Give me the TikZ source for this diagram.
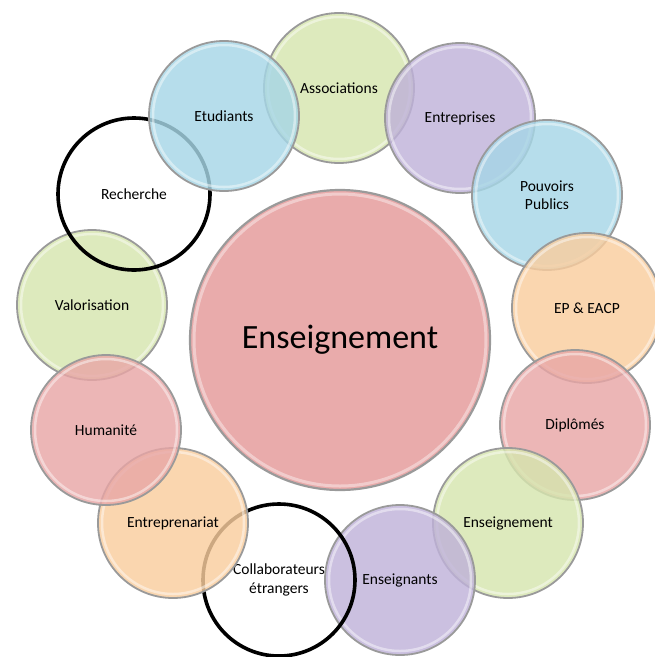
\documentclass[tikz,border=0pt]{standalone}
\usepackage{fontspec}
\setmainfont{Carlito}
\definecolor{cpink}{HTML}{E8A6A6}
\definecolor{cblue}{HTML}{A6D6E6}
\definecolor{cgreen}{HTML}{D6E5AE}
\definecolor{cpurple}{HTML}{BFB2D9}
\definecolor{corange}{HTML}{F9CD9E}
\definecolor{crim}{HTML}{9A9A9A}
\definecolor{ctext}{HTML}{000000}
\tikzset{
  bubble/.style={circle, minimum size=150pt, inner sep=0pt, draw=crim, line width=1.8pt,
    fill=#1, fill opacity=0.82, text opacity=1, text=ctext, align=center,
    font=\fontsize{15.5}{18.5}\selectfont,
    path picture={\draw[white, draw opacity=0.45, line width=2.5pt]
      (path picture bounding box.center) circle (71pt);}},
  ringbubble/.style={circle, minimum size=152pt, inner sep=0pt, draw=black, line width=3.6pt,
    text=ctext, align=center, font=\fontsize{15.5}{18.5}\selectfont},
  bigbubble/.style={circle, minimum size=300pt, inner sep=0pt, draw=crim, line width=2.2pt,
    fill=cpink, fill opacity=0.95, text opacity=1, text=ctext,
    font=\fontsize{34}{40}\selectfont,
    path picture={\draw[white, draw opacity=0.4, line width=3pt]
      (path picture bounding box.center) circle (146pt);}}
}
\begin{document}
\begin{tikzpicture}[x=1pt,y=-1pt]
\useasboundingbox (0,0) rectangle (655,657);
\node[bubble=cgreen] (valo) at (92,305) {Valorisation};
\node[ringbubble] (rech) at (134,194) {Recherche};
\node[bubble=cgreen] (asso) at (339,88) {Associations};
\node[bubble=cblue] (etud) at (224,116) {Etudiants};
\node[bubble=cpurple] (entr) at (460,118) {Entreprises};
\node[bubble=cblue] (pouv) at (547,195) {Pouvoirs\\Publics};
\node[bubble=corange] (epea) at (587,308) {EP \& EACP};
\node[bubble=cpink] (dipl) at (575,425) {Diplômés};
\node[bubble=cgreen] (ensm) at (508,523) {Enseignement};
\node[bubble=cpurple] (ensg) at (400,580) {Enseignants};
\node[ringbubble] (coll) at (279,580) {Collaborateurs\\étrangers};
\node[bubble=corange] (entp) at (173,523) {Entreprenariat};
\node[bubble=cpink] (huma) at (106,430) {Humanité};
\node[bigbubble] (ens) at (340,340) {Enseignement};
\end{tikzpicture}
\end{document}
